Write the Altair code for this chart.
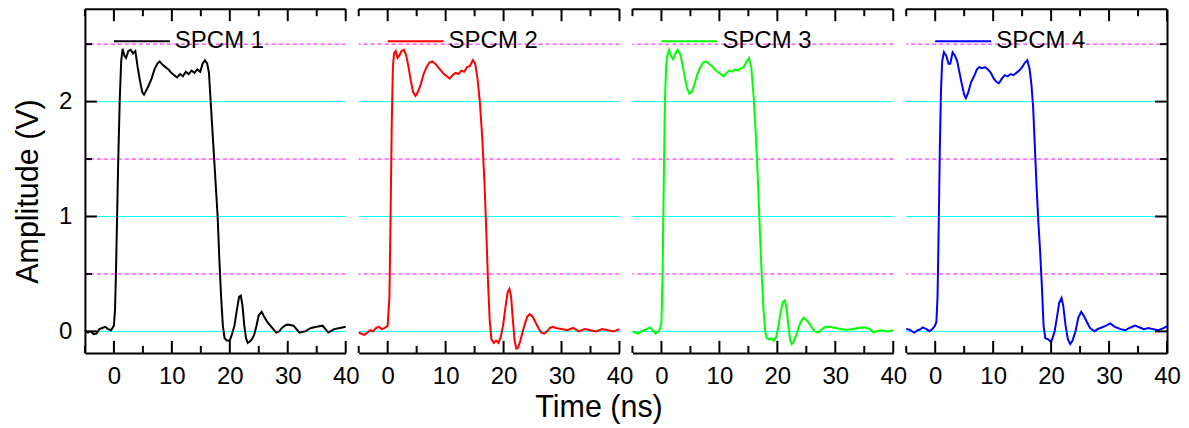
import altair as alt
import pandas as pd

FONT = "Liberation Sans"
W, H = 261, 344
X_DOMAIN = [-5, 40]
Y_DOMAIN = [-0.186957, 2.804348]

names = ["SPCM 1", "SPCM 2", "SPCM 3", "SPCM 4"]
colors = ["#000000", "#FF0000", "#00FF00", "#0000FF"]

# ---- SPCM 1 (black) ----
t1 = [-5, -4.5, -4, -3.5, -3, -2.5, -2, -1.5, -1, -0.5, 0, 0.2, 0.35, 0.55, 0.75, 1.0, 1.25, 1.5,
      1.8, 2.1, 2.5, 2.9, 3.3, 3.7, 4.1, 4.5, 4.9, 5.2, 5.6, 6.0, 6.5, 7.0, 7.5, 7.9, 8.4, 8.9, 9.4,
      9.9, 10.4, 10.9, 11.4, 11.9, 12.4, 12.9, 13.4, 13.9, 14.4, 14.9, 15.3, 15.7, 16.1, 16.4, 16.7,
      17.0, 17.3, 17.6, 17.9, 18.2, 18.5, 18.8, 19.1, 19.5, 20.0, 20.4, 20.8, 21.2, 21.6, 21.9, 22.2,
      22.5, 22.8, 23.1, 23.4, 23.8, 24.2, 24.6, 25.0, 25.5, 26.0, 26.5, 27.0, 27.5, 28.0, 28.5, 29.0,
      29.5, 30.0, 31, 32, 33, 34, 35, 36, 37, 38, 39, 40]
v1 = [0.01, -0.01, 0.0, -0.025, -0.02, 0.02, 0.03, 0.04, 0.02, 0.01, 0.05, 0.2, 0.5, 1.0, 1.5, 2.0, 2.35, 2.46,
      2.4, 2.38, 2.44, 2.45, 2.42, 2.44, 2.3, 2.18, 2.08, 2.06, 2.1, 2.14, 2.2, 2.28, 2.33, 2.35, 2.32, 2.3, 2.28,
      2.25, 2.23, 2.21, 2.24, 2.22, 2.26, 2.24, 2.27, 2.25, 2.28, 2.26, 2.33, 2.36, 2.33, 2.25, 2.0,
      1.75, 1.5, 1.25, 1.0, 0.62, 0.3, 0.05, -0.06, -0.08, -0.08, -0.02, 0.05, 0.18, 0.3, 0.31, 0.22,
      0.05, -0.06, -0.1, -0.09, -0.07, -0.03, 0.05, 0.14, 0.17, 0.12, 0.08, 0.05, 0.02, -0.01, 0.0, 0.03,
      0.05, 0.06, 0.05, -0.01, 0.0, 0.03, 0.04, 0.05, -0.01, 0.02, 0.03, 0.04]

# ---- SPCM 2 (red) ----
t2 = [-5, -4.5, -4, -3.5, -3, -2.5, -2, -1.5, -1, -0.5, 0, 0.3, 0.5, 0.7, 0.9, 1.1, 1.4, 1.7, 2.0, 2.4,
      2.8, 3.2, 3.6, 4.0, 4.4, 4.8, 5.2, 5.7, 6.2, 6.7, 7.2, 7.7, 8.2, 8.7, 9.2, 9.7, 10.2, 10.7, 11.2,
      11.7, 12.2, 12.7, 13.2, 13.7, 14.2, 14.7, 15.1, 15.5, 15.9, 16.3, 16.7, 17.0, 17.3, 17.6, 17.9,
      18.3, 18.7, 19.1, 19.5, 19.9, 20.3, 20.7, 21.0, 21.3, 21.6, 21.9, 22.2, 22.5, 22.9, 23.3, 23.7,
      24.1, 24.5, 25.0, 25.5, 26.0, 26.5, 27.0, 27.5, 28, 28.5, 29, 30, 31, 32, 33, 34, 35, 36, 37, 38,
      39, 40]
v2 = [-0.01, -0.02, -0.03, -0.01, 0.01, 0.0, 0.03, 0.04, 0.02, 0.03, 0.05, 0.3, 1.0, 1.8, 2.3, 2.42, 2.44,
      2.38, 2.4, 2.44, 2.45, 2.4, 2.3, 2.18, 2.08, 2.05, 2.08, 2.15, 2.24, 2.3, 2.34, 2.35, 2.33, 2.3, 2.27,
      2.24, 2.22, 2.2, 2.23, 2.25, 2.24, 2.27, 2.26, 2.3, 2.31, 2.36, 2.33, 2.2, 2.0, 1.7, 1.3, 0.9, 0.45,
      0.1, -0.07, -0.1, -0.08, -0.1, -0.05, 0.05, 0.2, 0.34, 0.37, 0.3, 0.1, -0.08, -0.15, -0.14, -0.08,
      0.0, 0.07, 0.13, 0.15, 0.13, 0.08, 0.03, -0.01, -0.02, 0.0, 0.03, 0.04, 0.03, 0.02, 0.01, 0.03, 0.0,
      0.02, 0.01, 0.0, 0.02, 0.01, 0.0, 0.02]

# ---- SPCM 3 (green) ----
t3 = [-5, -4.5, -4, -3.5, -3, -2.5, -2, -1.5, -1, -0.5, -0.2, 0, 0.2, 0.4, 0.6, 0.8, 1.0, 1.3, 1.6, 2.0,
      2.4, 2.8, 3.2, 3.6, 4.0, 4.4, 4.8, 5.2, 5.7, 6.2, 6.7, 7.2, 7.7, 8.2, 8.7, 9.2, 9.7, 10.2, 10.7,
      11.2, 11.7, 12.2, 12.7, 13.2, 13.7, 14.2, 14.7, 15.1, 15.5, 15.9, 16.3, 16.7, 17.0, 17.3, 17.6,
      17.9, 18.2, 18.6, 19.0, 19.4, 19.8, 20.2, 20.6, 21.0, 21.3, 21.6, 21.9, 22.2, 22.5, 22.8, 23.2,
      23.6, 24.0, 24.5, 25.0, 25.5, 26.0, 26.5, 27.0, 27.5, 28, 28.5, 29, 30, 31, 32, 33, 34, 35, 36,
      36.6, 37, 38, 39, 40]
v3 = [0.0, -0.01, -0.02, 0.0, 0.01, 0.02, 0.035, 0.01, -0.02, 0.0, 0.03, 0.08, 0.5, 1.3, 2.0, 2.3, 2.4,
      2.45, 2.4, 2.37, 2.42, 2.45, 2.42, 2.33, 2.22, 2.12, 2.07, 2.08, 2.15, 2.24, 2.3, 2.34, 2.35, 2.33,
      2.31, 2.28, 2.26, 2.24, 2.22, 2.25, 2.27, 2.26, 2.28, 2.27, 2.29, 2.3, 2.35, 2.38, 2.3, 2.05, 1.7,
      1.25, 0.85, 0.5, 0.2, 0.0, -0.06, -0.07, -0.06, -0.08, -0.05, 0.05, 0.18, 0.26, 0.27, 0.2, 0.05,
      -0.07, -0.11, -0.09, -0.04, 0.02, 0.08, 0.12, 0.1, 0.07, 0.03, 0.0, -0.01, 0.01, 0.03, 0.04, 0.04,
      0.03, 0.02, 0.015, 0.02, 0.03, 0.035, 0.02, -0.01, 0.0, 0.01, 0.0, 0.01]

# ---- SPCM 4 (blue) ----
t4 = [-5, -4.4, -4, -3.6, -3, -2.5, -2.2, -1.5, -1, -0.5, -0.1, 0.2, 0.4, 0.6, 0.8, 1.0, 1.2, 1.5, 1.9,
      2.3, 2.6, 3.0, 3.4, 3.8, 4.2, 4.6, 5.0, 5.3, 5.7, 6.2, 6.7, 7.2, 7.6, 8.1, 8.6, 9.1, 9.6, 10.1,
      10.6, 11.0, 11.5, 12.0, 12.5, 13.0, 13.5, 14.0, 14.5, 15.0, 15.5, 15.9, 16.3, 16.6, 16.9, 17.2,
      17.5, 17.8, 18.1, 18.4, 18.7, 19.0, 19.5, 20.0, 20.3, 20.6, 21.0, 21.4, 21.8, 22.1, 22.5, 22.9,
      23.3, 23.7, 24.2, 24.7, 25.2, 25.7, 26.2, 26.7, 27.1, 27.5, 28, 28.5, 29, 29.5, 30.2, 31, 32, 32.8,
      33.5, 34.5, 35.5, 36, 36.8, 37.5, 38.5, 39.5, 40]
v4 = [0.02, 0.015, 0.0, -0.01, 0.01, 0.02, 0.035, 0.02, 0.0, 0.02, 0.045, 0.08, 0.3, 0.9, 1.6, 2.1, 2.35,
      2.43, 2.4, 2.33, 2.33, 2.43, 2.4, 2.35, 2.25, 2.15, 2.06, 2.03, 2.08, 2.17, 2.22, 2.28, 2.3, 2.29,
      2.3, 2.28, 2.25, 2.2, 2.17, 2.16, 2.2, 2.23, 2.22, 2.24, 2.23, 2.25, 2.27, 2.3, 2.34, 2.36, 2.28,
      2.15, 1.95, 1.6, 1.25, 0.95, 0.7, 0.4, 0.05, -0.06, -0.07, -0.09, -0.05, 0.0, 0.12, 0.25, 0.29,
      0.22, 0.05, -0.07, -0.11, -0.08, 0.0, 0.12, 0.17, 0.13, 0.08, 0.03, 0.015, 0.0, 0.02, 0.03, 0.04,
      0.05, 0.07, 0.04, 0.02, 0.01, 0.03, 0.05, 0.03, 0.02, 0.03, 0.02, 0.01, 0.03, 0.045]

series_t = [t1, t2, t3, t4]
series_v = [v1, v2, v3, v4]

x_label_values = [0, 10, 20, 30, 40]
y_label_values = [0, 1, 2]
x_major_ticks = [0, 10, 20, 30, 40]
x_minor_ticks = [-5, 5, 15, 25, 35]
y_major_ticks = [0, 1, 2]
y_minor_ticks = [0.5, 1.5, 2.5]
grid_solid = [0, 1, 2]
grid_dashed = [0.5, 1.5, 2.5]

MAJOR, MINOR = 12, 7
AXW = 2
TITLE_SIZE = 30.5


def panel(i):
    xs = alt.Scale(domain=X_DOMAIN, nice=False, zero=False)
    ys = alt.Scale(domain=Y_DOMAIN, nice=False, zero=False)
    xaxis_kw = dict(values=x_label_values, ticks=False, tickSize=0, grid=False, domain=True,
                    domainWidth=AXW, domainColor="black", labelFont=FONT, labelFontSize=24,
                    labelColor="black", labelPadding=12, labelFlush=False, labelOverlap=False)
    if i == 1:
        xaxis = alt.Axis(title="Time (ns)", titleFont=FONT, titleFontSize=TITLE_SIZE,
                         titleFontWeight="normal", titleColor="black", titleX=240, titlePadding=4,
                         **xaxis_kw)
    else:
        xaxis = alt.Axis(title=None, **xaxis_kw)
    if i == 0:
        yaxis = alt.Axis(values=y_label_values, ticks=False, tickSize=0, grid=False, domain=True,
                         domainWidth=AXW, domainColor="black", labelFont=FONT, labelFontSize=24,
                         labelColor="black", labelPadding=13, title="Amplitude (V)", titleFont=FONT,
                         titleFontSize=TITLE_SIZE, titleFontWeight="normal", titleColor="black",
                         titlePadding=15, titleY=182)
    elif i == 3:
        yaxis = alt.Axis(orient="right", labels=False, ticks=False, tickSize=0, grid=False, domain=True,
                         domainWidth=AXW, domainColor="black", title=None)
    else:
        yaxis = None

    X = lambda f: alt.X(f, type="quantitative", scale=xs, axis=xaxis)
    Y = lambda f: alt.Y(f, type="quantitative", scale=ys, axis=yaxis)

    g1 = alt.Chart(pd.DataFrame({"v": grid_solid})).mark_rule(color="#00FFFF", strokeWidth=1).encode(y=Y("v"))
    g2 = alt.Chart(pd.DataFrame({"v": grid_dashed})).mark_rule(
        color="#FF00FF", strokeWidth=1, strokeDash=[4, 3]).encode(y=Y("v"))

    df = pd.DataFrame({"t": series_t[i], "v": series_v[i], "series": names[i]})
    line = alt.Chart(df).mark_line(strokeWidth=2).encode(
        x=X("t"), y=Y("v"),
        color=alt.Color("series:N", scale=alt.Scale(domain=[names[i]], range=[colors[i]]),
                        legend=alt.Legend(orient="none", legendX=28, legendY=3, title=None,
                                          symbolType="stroke", symbolSize=3136, symbolStrokeWidth=2,
                                          labelFont=FONT, labelFontSize=24, labelColor="black",
                                          labelOffset=4, padding=0)))

    top = alt.Chart(alt.Data(values=[{}])).mark_rule(color="black", strokeWidth=AXW).encode(y=alt.value(0))

    xmaj = pd.DataFrame({"t": x_major_ticks})
    xmin = pd.DataFrame({"t": x_minor_ticks})
    tk = dict(color="black", strokeWidth=AXW)
    ticks = [
        alt.Chart(xmaj).mark_rule(**tk).encode(x=X("t"), y=alt.value(0), y2=alt.value(MAJOR)),
        alt.Chart(xmin).mark_rule(**tk).encode(x=X("t"), y=alt.value(0), y2=alt.value(MINOR)),
        alt.Chart(xmaj).mark_rule(**tk).encode(x=X("t"), y=alt.value(H - MAJOR), y2=alt.value(H)),
        alt.Chart(xmin).mark_rule(**tk).encode(x=X("t"), y=alt.value(H - MINOR), y2=alt.value(H)),
    ]
    ymaj = pd.DataFrame({"v": y_major_ticks})
    ymin = pd.DataFrame({"v": y_minor_ticks})
    if i == 0:
        ticks += [
            alt.Chart(ymaj).mark_rule(**tk).encode(y=Y("v"), x=alt.value(0), x2=alt.value(MAJOR)),
            alt.Chart(ymin).mark_rule(**tk).encode(y=Y("v"), x=alt.value(0), x2=alt.value(MINOR)),
        ]
    elif i == 3:
        ticks += [
            alt.Chart(ymaj).mark_rule(**tk).encode(y=Y("v"), x=alt.value(W - MAJOR), x2=alt.value(W)),
            alt.Chart(ymin).mark_rule(**tk).encode(y=Y("v"), x=alt.value(W - MINOR), x2=alt.value(W)),
        ]

    return alt.layer(g1, g2, line, top, *ticks).properties(width=W, height=H)


chart = alt.hconcat(*[panel(i) for i in range(4)], spacing=13, bounds="flush").resolve_scale(
    color="independent").resolve_legend(color="independent").configure_view(stroke=None).properties(
    padding={"left": 5, "top": 0, "right": 0, "bottom": 0}, background="white")

chart.save("out.html", embed_options={"renderer": "svg", "actions": False})
